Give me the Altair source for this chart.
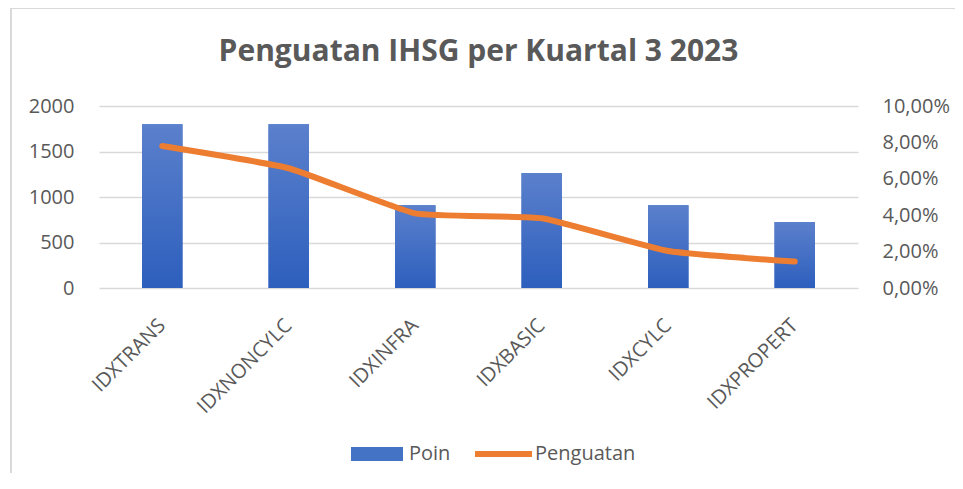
import altair as alt
import pandas as pd

categories = ["IDXTRANS", "IDXNONCYLC", "IDXINFRA", "IDXBASIC", "IDXCYLC", "IDXPROPERT"]
poin = [1800, 1800, 910, 1265, 910, 725]
penguatan = [0.078, 0.0658, 0.041, 0.0383, 0.0203, 0.0145]

df = pd.DataFrame({"kategori": categories, "Poin": poin, "Penguatan": penguatan})

FONT = "Open Sans"
GRAY = "#595959"
GRID = "#D9D9D9"
FS = 20

xenc = alt.X(
    "kategori:N",
    sort=categories,
    scale=alt.Scale(paddingInner=0.68, paddingOuter=0.34),
    axis=alt.Axis(
        title=None, labelAngle=-45, labelFontSize=FS, labelColor=GRAY, labelFont=FONT,
        domain=False, ticks=False, labelPadding=34, labelAlign="right", labelBaseline="middle",
    ),
)

bar_legend = alt.Chart(df).mark_bar().encode(
    x=xenc,
    y=alt.Y("Poin:Q", scale=alt.Scale(domain=[0, 2000]),
            axis=alt.Axis(title=None, values=[0, 500, 1000, 1500, 2000], format="d",
                          labelFontSize=FS, labelColor=GRAY, labelFont=FONT, domain=False,
                          ticks=False, gridColor=GRID, gridWidth=1.5, labelPadding=25)),
    color=alt.Color("datum_poin:N", scale=alt.Scale(domain=["Poin"], range=["#4472C4"]),
                    legend=alt.Legend(title=None, orient="none", legendX=252, legendY=322,
                                      symbolType="M-1,-0.27H1V0.27H-1Z", symbolSize=2704,
                                      labelFontSize=FS, labelColor=GRAY, labelFont=FONT,
                                      labelOffset=6, padding=0, symbolStrokeWidth=0)),
).transform_calculate(datum_poin="'Poin'")

bars = alt.Chart(df).mark_bar(
    fill=alt.Gradient(gradient="linear", x1=0, y1=0, x2=0, y2=1,
                      stops=[alt.GradientStop(color="#5B80CC", offset=0),
                             alt.GradientStop(color="#2D5FBD", offset=1)])
).encode(x=xenc, y=alt.Y("Poin:Q", scale=alt.Scale(domain=[0, 2000]), axis=None))

line = alt.Chart(df).mark_line(strokeWidth=6, strokeCap="round", strokeJoin="round",
                               interpolate="cardinal", tension=0.6).encode(
    x=xenc,
    y=alt.Y("Penguatan:Q", scale=alt.Scale(domain=[0, 0.10]),
            axis=alt.Axis(title=None, orient="right", values=[0, 0.02, 0.04, 0.06, 0.08, 0.10],
                          labelExpr="replace(format(datum.value, '.2%'), '.', ',')",
                          labelFontSize=FS, labelColor=GRAY, labelFont=FONT, domain=False,
                          ticks=False, grid=False, labelPadding=24)),
    stroke=alt.Stroke("datum_p:N", scale=alt.Scale(domain=["Penguatan"], range=["#ED7D31"]),
                      legend=alt.Legend(title=None, orient="none", legendX=373, legendY=316.5,
                                        symbolType="M-1,0H1", symbolSize=3249,
                                        symbolStrokeWidth=6, labelFontSize=FS, labelColor=GRAY,
                                        labelFont=FONT, labelOffset=0, padding=0)),
).transform_calculate(datum_p="'Penguatan'")

frame_left = alt.Chart(df).mark_rule(color=GRID, strokeWidth=2).encode(
    x=alt.value(-88), y=alt.value(-98), y2=alt.value(380))
frame_top = alt.Chart(df).mark_rule(color=GRID, strokeWidth=2).encode(
    x=alt.value(-88), x2=alt.value(860), y=alt.value(-98))

chart = alt.layer(frame_left, frame_top, bar_legend, bars, line).resolve_scale(
    y="independent", color="independent", stroke="independent"
).properties(
    width=759, height=182,
    title=alt.Title("Penguatan IHSG per Kuartal 3 2023", fontSize=30, font=FONT,
                    fontWeight="bold", color=GRAY, anchor="middle", offset=0, dy=60),
    padding={"left": 91, "top": 98, "right": 97, "bottom": 185},
    autosize=alt.AutoSizeParams(type="none"),
).configure_view(stroke=None)

chart.save("out.html", embed_options={"renderer": "svg", "actions": False})
